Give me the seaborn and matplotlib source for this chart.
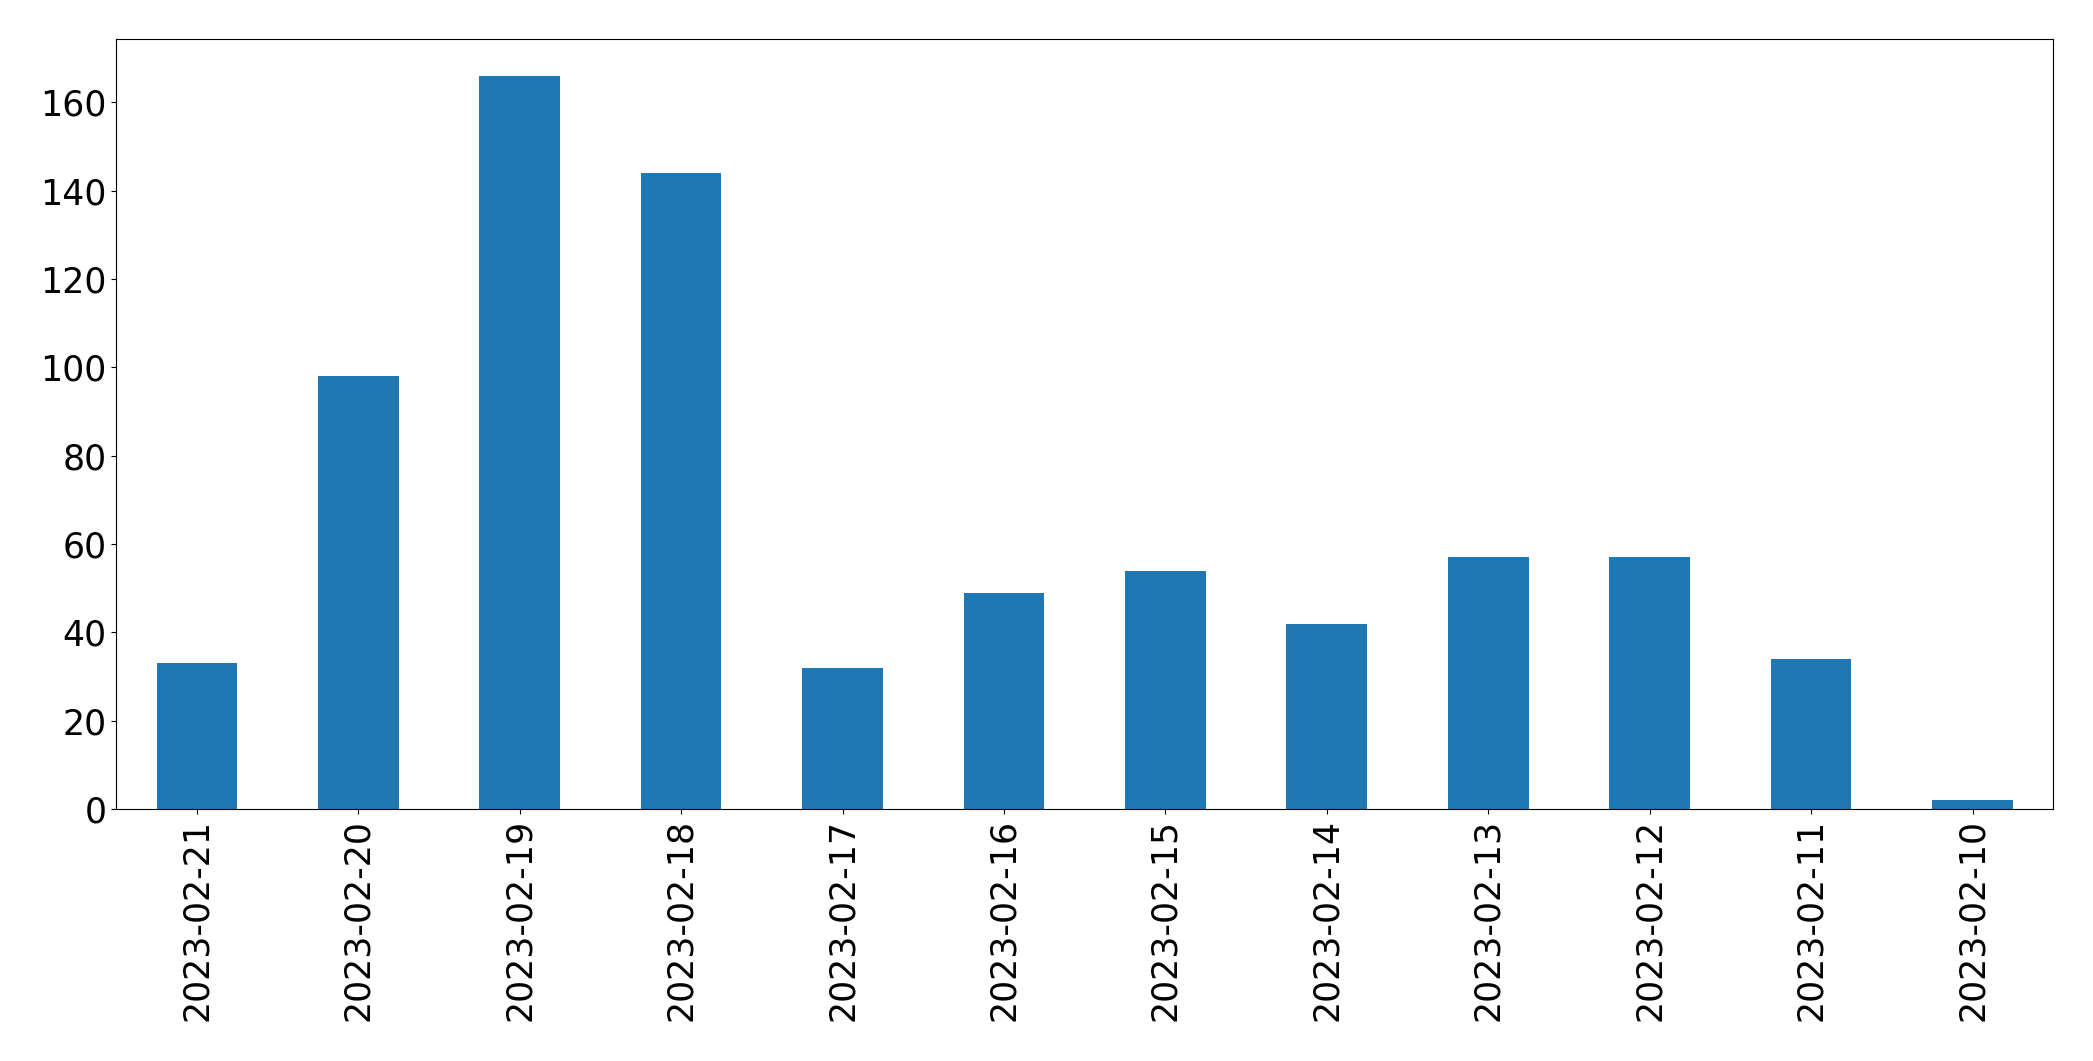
import matplotlib
matplotlib.use('Agg')
import matplotlib.pyplot as plt
import seaborn as sns

dates = ['2023-02-21', '2023-02-20', '2023-02-19', '2023-02-18', '2023-02-17', '2023-02-16',
         '2023-02-15', '2023-02-14', '2023-02-13', '2023-02-12', '2023-02-11', '2023-02-10']
counts = [33, 98, 166, 144, 32, 49, 54, 42, 57, 57, 34, 2]

plt.rcParams['font.family'] = ['DejaVu Sans']
fig = plt.figure(figsize=(20.93, 10.61), dpi=100)
ax = fig.add_axes([0.0555, 0.2375, 0.9255, 0.7255])

sns.barplot(x=dates, y=counts, color='#1f77b4', saturation=1, width=0.5, ax=ax)

ax.set_xlim(-0.5, len(dates) - 0.5)
ax.set_ylim(0, max(counts) * 1.05)
ax.tick_params(axis='both', labelsize=25)
ax.tick_params(axis='x', labelrotation=90)

plt.savefig('out.png', dpi=100)
